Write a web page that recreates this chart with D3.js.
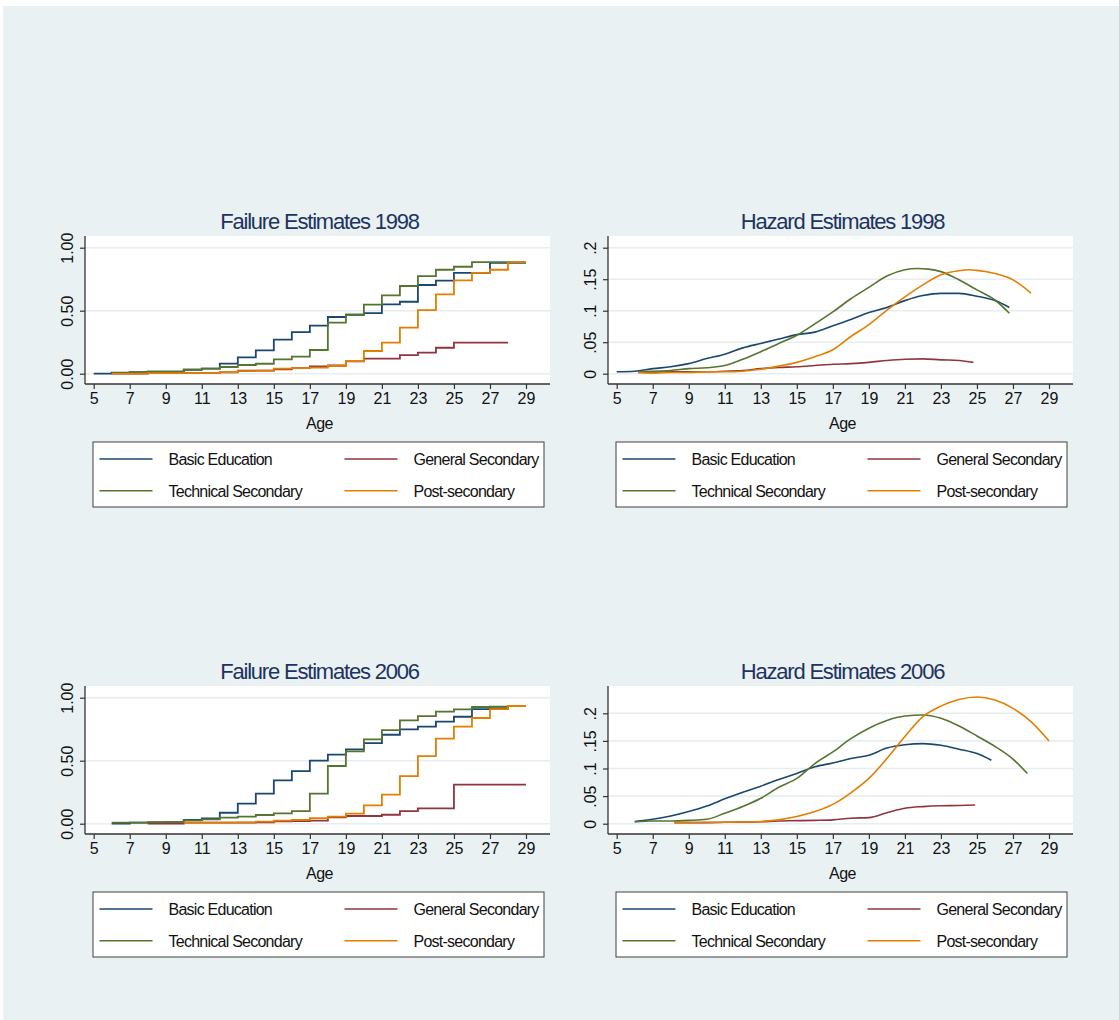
<!DOCTYPE html>
<html>
<head>
<meta charset="utf-8">
<script src="https://cdn.jsdelivr.net/npm/d3@7"></script>
<style>
  html, body { margin: 0; padding: 0; background: #ffffff; }
  svg { display: block; font-family: "Liberation Sans", Arial, sans-serif; }
</style>
</head>
<body>
<svg id="chart" width="1119" height="1020"></svg>
<script>
// ---- Series names, colours and tick labels ----
const seriesNames = ["Basic Education", "General Secondary", "Technical Secondary", "Post-secondary"];
const seriesColors = ["#1a476f", "#90353b", "#55752f", "#e37e00"];
const xTicks = [5, 7, 9, 11, 13, 15, 17, 19, 21, 23, 25, 27, 29];
const failureTicks = [0, 0.5, 1];
const failureTickLabels = ["0.00", "0.50", "1.00"];
const hazardTicks = [0, 0.05, 0.1, 0.15, 0.2];
const hazardTickLabels = ["0", ".05", ".1", ".15", ".2"];

// ---- Failure estimates 1998 (cumulative share, value holds from each age to the next) ----
const fail98BasicAges = d3.range(5, 30);
const fail98Basic = [0, 0.008, 0.013, 0.016, 0.016, 0.03, 0.04, 0.08, 0.13, 0.185, 0.27, 0.33, 0.381, 0.45, 0.468, 0.48, 0.55, 0.571, 0.704, 0.738, 0.80, 0.80, 0.88, 0.88, 0.88];
const fail98GeneralAges = d3.range(6, 29);
const fail98General = [0, 0, 0.005, 0.005, 0.005, 0.005, 0.01, 0.025, 0.025, 0.035, 0.045, 0.058, 0.066, 0.098, 0.119, 0.119, 0.148, 0.167, 0.206, 0.246, 0.246, 0.246, 0.246];
const fail98TechnicalAges = d3.range(6, 30);
const fail98Technical = [0.005, 0.01, 0.016, 0.016, 0.034, 0.04, 0.053, 0.069, 0.079, 0.114, 0.135, 0.188, 0.405, 0.468, 0.548, 0.622, 0.696, 0.775, 0.825, 0.849, 0.886, 0.886, 0.886, 0.886];
const fail98PostAges = d3.range(6, 30);
const fail98Post = [0, 0, 0.005, 0.005, 0.005, 0.005, 0.013, 0.02, 0.024, 0.04, 0.045, 0.048, 0.061, 0.10, 0.18, 0.246, 0.365, 0.505, 0.63, 0.741, 0.80, 0.825, 0.884, 0.884];

// ---- Failure estimates 2006 ----
const fail06BasicAges = d3.range(6, 30);
const fail06Basic = [0, 0.008, 0.01, 0.012, 0.03, 0.042, 0.087, 0.159, 0.238, 0.344, 0.418, 0.50, 0.548, 0.59, 0.64, 0.706, 0.749, 0.77, 0.81, 0.849, 0.91, 0.915, 0.934, 0.934];
const fail06GeneralAges = d3.range(8, 30);
const fail06General = [0, 0, 0.008, 0.008, 0.008, 0.008, 0.01, 0.018, 0.02, 0.025, 0.05, 0.061, 0.061, 0.071, 0.10, 0.122, 0.122, 0.31, 0.31, 0.31, 0.31, 0.31];
const fail06TechnicalAges = d3.range(6, 30);
const fail06Technical = [0.008, 0.008, 0.013, 0.013, 0.026, 0.034, 0.048, 0.056, 0.069, 0.082, 0.10, 0.238, 0.458, 0.574, 0.669, 0.743, 0.82, 0.854, 0.889, 0.907, 0.926, 0.928, 0.934, 0.934];
const fail06PostAges = d3.range(10, 30);
const fail06Post = [0.008, 0.008, 0.008, 0.01, 0.016, 0.024, 0.03, 0.045, 0.056, 0.08, 0.146, 0.23, 0.378, 0.537, 0.675, 0.77, 0.839, 0.91, 0.934, 0.934];

// ---- Smoothed hazard estimates 1998 ----
const haz98BasicAges = [5, 6, 7, 8, 9, 10, 11, 12, 13, 14, 15, 16, 17, 18, 19, 20, 21, 22, 23, 24, 25, 26, 26.8];
const haz98Basic = [0.003, 0.004, 0.008, 0.011, 0.016, 0.024, 0.031, 0.041, 0.048, 0.055, 0.062, 0.066, 0.076, 0.086, 0.097, 0.105, 0.116, 0.124, 0.1275, 0.1275, 0.123, 0.116, 0.105];
const haz98GeneralAges = [6.2, 7, 8, 9, 10, 11, 12, 13, 14, 15, 16, 17, 18, 19, 20, 21, 22, 23, 24, 24.8];
const haz98General = [0.002, 0.002, 0.003, 0.003, 0.003, 0.004, 0.005, 0.008, 0.010, 0.011, 0.013, 0.015, 0.016, 0.018, 0.021, 0.023, 0.0235, 0.022, 0.021, 0.018];
const haz98TechnicalAges = [6.2, 7, 8, 9, 10, 11, 12, 13, 14, 15, 16, 17, 18, 19, 20, 21, 21.7, 22.3, 23, 24, 25, 26, 26.8];
const haz98Technical = [0.003, 0.004, 0.005, 0.008, 0.0095, 0.013, 0.023, 0.035, 0.048, 0.061, 0.079, 0.098, 0.119, 0.137, 0.155, 0.165, 0.167, 0.166, 0.162, 0.149, 0.133, 0.117, 0.096];
const haz98PostAges = [6.2, 7, 8, 9, 10, 11, 12, 13, 14, 15, 16, 17, 18, 19, 20, 21, 22, 23, 24, 24.6, 25, 26, 27, 28];
const haz98Post = [0.002, 0.001, 0.002, 0.002, 0.003, 0.003, 0.004, 0.007, 0.012, 0.018, 0.027, 0.038, 0.059, 0.078, 0.101, 0.122, 0.141, 0.157, 0.1635, 0.165, 0.164, 0.159, 0.149, 0.128];

// ---- Smoothed hazard estimates 2006 ----
const haz06BasicAges = [6, 7, 8, 9, 10, 11, 12, 13, 14, 15, 16, 17, 18, 19, 20, 21, 22, 23, 24, 25, 25.8];
const haz06Basic = [0.004, 0.008, 0.014, 0.022, 0.032, 0.045, 0.057, 0.068, 0.080, 0.091, 0.103, 0.110, 0.118, 0.124, 0.137, 0.143, 0.145, 0.142, 0.135, 0.127, 0.115];
const haz06GeneralAges = [8.2, 9, 10, 11, 12, 13, 14, 15, 16, 17, 18, 19, 20, 21, 22, 23, 24, 24.9];
const haz06General = [0.002, 0.002, 0.002, 0.0025, 0.003, 0.0035, 0.005, 0.0055, 0.006, 0.007, 0.010, 0.011, 0.020, 0.028, 0.031, 0.0325, 0.033, 0.034];
const haz06TechnicalAges = [6, 7, 8, 9, 10, 11, 12, 13, 14, 15, 16, 17, 18, 19, 20, 21, 22, 23, 24, 25, 26, 27, 27.8];
const haz06Technical = [0.003, 0.005, 0.005, 0.006, 0.008, 0.019, 0.031, 0.046, 0.066, 0.082, 0.109, 0.130, 0.154, 0.173, 0.187, 0.195, 0.197, 0.191, 0.177, 0.159, 0.140, 0.117, 0.091];
const haz06PostAges = [8.2, 9, 10, 11, 12, 13, 14, 15, 16, 17, 18, 19, 20, 21, 22, 23, 24, 25, 26, 27, 28, 29];
const haz06Post = [0.002, 0.002, 0.0025, 0.0025, 0.003, 0.004, 0.007, 0.013, 0.022, 0.035, 0.056, 0.082, 0.118, 0.158, 0.194, 0.213, 0.225, 0.2295, 0.224, 0.209, 0.185, 0.150];

// ---- Panel definitions (series listed in drawing order: Basic, General, Technical, Post) ----
const panels = [
  { title: "Failure Estimates 1998", step: true, left: 85, top: 236,
    ticks: failureTicks, tickLabels: failureTickLabels, yRef: 1,
    series: [[fail98BasicAges, fail98Basic], [fail98GeneralAges, fail98General], [fail98TechnicalAges, fail98Technical], [fail98PostAges, fail98Post]] },
  { title: "Hazard Estimates 1998", step: false, left: 608, top: 236,
    ticks: hazardTicks, tickLabels: hazardTickLabels, yRef: 0.2,
    series: [[haz98BasicAges, haz98Basic], [haz98GeneralAges, haz98General], [haz98TechnicalAges, haz98Technical], [haz98PostAges, haz98Post]] },
  { title: "Failure Estimates 2006", step: true, left: 85, top: 686,
    ticks: failureTicks, tickLabels: failureTickLabels, yRef: 1,
    series: [[fail06BasicAges, fail06Basic], [fail06GeneralAges, fail06General], [fail06TechnicalAges, fail06Technical], [fail06PostAges, fail06Post]] },
  { title: "Hazard Estimates 2006", step: false, left: 608, top: 686, refOffset: 27.3,
    ticks: hazardTicks, tickLabels: hazardTickLabels, yRef: 0.2,
    series: [[haz06BasicAges, haz06Basic], [haz06GeneralAges, haz06General], [haz06TechnicalAges, haz06Technical], [haz06PostAges, haz06Post]] }
];

const W = 465, H = 148;
const svg = d3.select("#chart");

// graph region background
svg.append("rect").attr("x", 3).attr("y", 6).attr("width", 1116).attr("height", 1014).attr("fill", "#e9f1f3");

panels.forEach(p => {
  const g = svg.append("g").attr("transform", `translate(${p.left},${p.top})`);
  const x = d3.scaleLinear().domain([5, 29]).range([8.7, 441]);
  const y = d3.scaleLinear().domain([0, p.yRef]).range([137.7, p.refOffset || 11.7]);

  // plot region
  g.append("rect").attr("width", W).attr("height", H).attr("fill", "#ffffff");

  // horizontal grid lines
  g.selectAll("line.grid").data(p.ticks).enter().append("line")
    .attr("x1", 0).attr("x2", W)
    .attr("y1", d => y(d)).attr("y2", d => y(d))
    .attr("stroke", "#e6eef0").attr("stroke-width", 1.6);

  // series
  const line = d3.line()
    .x(d => x(d[0])).y(d => y(d[1]))
    .curve(p.step ? d3.curveStepAfter : d3.curveMonotoneX);
  p.series.forEach((s, i) => {
    const pts = s[0].map((a, k) => [a, s[1][k]]);
    g.append("path").datum(pts)
      .attr("d", line)
      .attr("fill", "none")
      .attr("stroke", seriesColors[i])
      .attr("stroke-width", p.step ? 1.8 : 1.6)
      .attr("stroke-linejoin", "miter");
  });

  // x axis
  const xAxis = g.append("g").attr("transform", `translate(0,${H})`)
    .call(d3.axisBottom(x).tickValues(xTicks).tickSize(5).tickPadding(4).tickSizeOuter(0));
  xAxis.select(".domain").attr("d", `M0,0H${W}`).attr("stroke", "#333").attr("stroke-width", 1.3);
  xAxis.selectAll(".tick line").attr("stroke", "#333").attr("stroke-width", 1.2);
  xAxis.selectAll(".tick text").attr("font-size", 16).attr("fill", "#111")
    .attr("font-family", "Liberation Sans, Arial, sans-serif").attr("dy", "0.71em");

  // y axis with rotated labels
  const yAxis = g.append("g")
    .call(d3.axisLeft(y).tickValues(p.ticks).tickSize(5).tickFormat((d, k) => p.tickLabels[k]).tickSizeOuter(0));
  yAxis.select(".domain").attr("d", `M0,0V${H}`).attr("stroke", "#333").attr("stroke-width", 1.3);
  yAxis.selectAll(".tick line").attr("stroke", "#333").attr("stroke-width", 1.2);
  yAxis.selectAll(".tick text")
    .attr("x", null).attr("dy", null)
    .attr("transform", "translate(-12,0) rotate(-90)")
    .attr("text-anchor", "middle")
    .attr("font-size", 16).attr("fill", "#111")
    .attr("font-family", "Liberation Sans, Arial, sans-serif");

  // axis title
  g.append("text").attr("x", W / 2 + 2).attr("y", 192.5)
    .attr("text-anchor", "middle").attr("font-size", 16).attr("letter-spacing", "-0.5px")
    .attr("fill", "#111").text("Age");

  // panel title
  g.append("text").attr("x", W / 2 + 2).attr("y", -7.5)
    .attr("text-anchor", "middle").attr("font-size", 22).attr("letter-spacing", "-1.2px")
    .attr("fill", "#1e3360").text(p.title);

  // legend
  const lg = g.append("g").attr("transform", "translate(8,206)");
  lg.append("rect").attr("width", 451).attr("height", 65)
    .attr("fill", "#ffffff").attr("stroke", "#404040").attr("stroke-width", 1);
  const legendOrder = [0, 1, 2, 3];
  legendOrder.forEach(i => {
    const col = i % 2, row = Math.floor(i / 2);
    const lx = 6.5 + col * 245, ly = 17 + row * 31.7;
    lg.append("line").attr("x1", lx).attr("x2", lx + 53).attr("y1", ly).attr("y2", ly)
      .attr("stroke", seriesColors[i]).attr("stroke-width", 1.5);
    lg.append("text").attr("x", lx + 69).attr("y", ly + 6)
      .attr("font-size", 16).attr("letter-spacing", "-0.75px").attr("fill", "#111")
      .text(seriesNames[i]);
  });
});
</script>
</body>
</html>
